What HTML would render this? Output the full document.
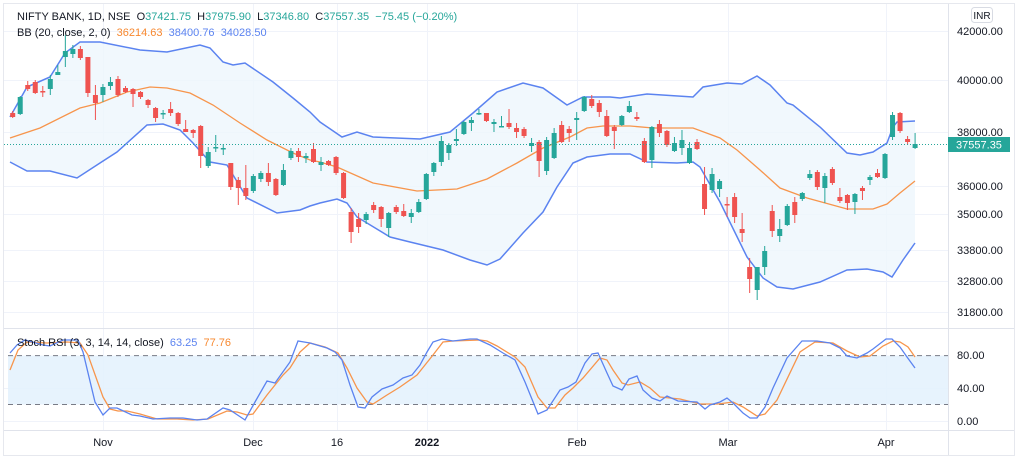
<!DOCTYPE html>
<html><head><meta charset="utf-8"><style>
html,body{margin:0;padding:0;background:#fff;width:1024px;height:461px;overflow:hidden}
svg text{font-family:"Liberation Sans",sans-serif;white-space:pre}
</style></head><body>
<svg id="s" width="1024" height="461" xmlns="http://www.w3.org/2000/svg" xml:space="preserve">
<rect x="0" y="0" width="1024" height="461" fill="#fff"/>
<rect x="3.5" y="3.5" width="1011" height="452" fill="none" stroke="#e6e8ee"/>
<g stroke="#f0f3fa" stroke-width="1">
<line x1="4" x2="948" y1="31.5" y2="31.5"/><line x1="4" x2="948" y1="80.5" y2="80.5"/>
<line x1="4" x2="948" y1="132.5" y2="132.5"/><line x1="4" x2="948" y1="186.5" y2="186.5"/>
<line x1="4" x2="948" y1="214.5" y2="214.5"/><line x1="4" x2="948" y1="250.5" y2="250.5"/>
<line x1="4" x2="948" y1="281.5" y2="281.5"/><line x1="4" x2="948" y1="312.5" y2="312.5"/>
<line x1="4" x2="948" y1="388.5" y2="388.5"/><line x1="4" x2="948" y1="421.5" y2="421.5"/>
<line x1="103.5" x2="103.5" y1="4" y2="430"/><line x1="253.5" x2="253.5" y1="4" y2="430"/>
<line x1="337.5" x2="337.5" y1="4" y2="430"/><line x1="427.5" x2="427.5" y1="4" y2="430"/>
<line x1="577.5" x2="577.5" y1="4" y2="430"/><line x1="728.5" x2="728.5" y1="4" y2="430"/>
<line x1="886.5" x2="886.5" y1="4" y2="430"/>
</g>
<g id="g"></g>
<rect x="8" y="355.6" width="940" height="48.9" fill="#e3f1fd" opacity="0.85"/>
<line x1="8" x2="948" y1="355.6" y2="355.6" stroke="#787b86" stroke-dasharray="5,4"/>
<line x1="8" x2="948" y1="404.5" y2="404.5" stroke="#787b86" stroke-dasharray="5,4"/>
<g id="st"></g>
<line x1="4" x2="1014" y1="328.5" y2="328.5" stroke="#e0e3eb"/>
<line x1="4" x2="1014" y1="430.5" y2="430.5" stroke="#e0e3eb"/>
<line x1="948.5" x2="948.5" y1="4" y2="455" stroke="#e0e3eb"/>
<line x1="4" x2="948" y1="144.5" y2="144.5" stroke="#26a69a" stroke-dasharray="1,2"/>
<g font-size="11" fill="#131722">
<text x="17" y="20">NIFTY BANK, 1D, NSE  O<tspan fill="#26a69a">37421.75</tspan>  H<tspan fill="#26a69a">37975.90</tspan>  L<tspan fill="#26a69a">37346.80</tspan>  C<tspan fill="#26a69a">37557.35</tspan>  <tspan fill="#26a69a">−75.45 (−0.20%)</tspan></text>
<text x="17" y="36">BB (20, close, 2, 0)  <tspan fill="#f7882f">36214.63</tspan>  <tspan fill="#5b83f0">38400.76</tspan>  <tspan fill="#5b83f0">34028.50</tspan></text>
<text x="17" y="346">Stoch RSI (3, 3, 14, 14, close)  <tspan fill="#5b83f0">63.25</tspan>  <tspan fill="#f7882f">77.76</tspan></text>
</g>
<rect x="971.5" y="7.5" width="21" height="15" rx="3" fill="#fff" stroke="#d8dbe3"/>
<text x="982" y="19" font-size="10" fill="#131722" text-anchor="middle">INR</text>
<g font-size="11" fill="#131722">
<text x="957" y="35">42000.00</text><text x="957" y="84">40000.00</text>
<text x="957" y="136">38000.00</text><text x="957" y="190">36000.00</text>
<text x="957" y="218">35000.00</text><text x="957" y="254">33800.00</text>
<text x="957" y="285">32800.00</text><text x="957" y="316">31800.00</text>
<text x="957" y="359">80.00</text><text x="957" y="392">40.00</text><text x="957" y="425">0.00</text>
<text x="103" y="446" text-anchor="middle">Nov</text><text x="253" y="446" text-anchor="middle">Dec</text>
<text x="337" y="446" text-anchor="middle">16</text><text x="427" y="446" text-anchor="middle" font-weight="bold">2022</text>
<text x="577" y="446" text-anchor="middle">Feb</text><text x="728" y="446" text-anchor="middle">Mar</text>
<text x="886" y="446" text-anchor="middle">Apr</text>
</g>
<rect x="948" y="137" width="62" height="15" fill="#26a69a"/>
<text x="979" y="148.5" font-size="11" fill="#fff" text-anchor="middle">37557.35</text>
</svg>
<script>
var NS="http://www.w3.org/2000/svg";
function el(p,t,a){var e=document.createElementNS(NS,t);for(var k in a)e.setAttribute(k,a[k]);p.appendChild(e);return e;}
function pts(a){return a.map(function(p){return p[0]+","+p[1]}).join(" ");}
var up=[[10,117],[27,87],[50,77],[65,53],[80,42],[100,42],[140,50],[167,52],[200,45],[210,48],[223,62],[233,65],[245,63],[273,82],[293,98],[310,112],[320,122],[342,137],[357,132],[373,137],[420,139],[450,132],[473,113],[497,92],[523,83],[543,88],[567,105],[583,97],[610,97],[620,98],[647,94],[693,97],[703,87],[727,83],[742,84],[757,76],[770,85],[787,103],[793,105],[820,127],[847,153],[860,155],[873,152],[887,143],[893,127],[897,122],[915,121]];
var mid=[[10,138],[40,128],[80,108],[100,103],[127,92],[150,87],[167,88],[190,93],[213,105],[240,123],[267,140],[293,153],[310,160],[320,162],[337,167],[373,183],[417,191],[457,189],[487,179],[517,163],[543,148],[570,137],[587,128],[603,126],[630,126],[653,128],[693,128],[720,138],[737,150],[760,170],[780,188],[807,198],[847,209],[873,209],[887,204],[900,193],[915,181]];
var lo=[[10,162],[27,171],[50,171],[77,178],[100,163],[117,152],[147,125],[163,124],[180,130],[193,143],[210,162],[227,165],[247,198],[277,213],[300,210],[310,206],[320,203],[337,199],[347,203],[357,217],[390,237],[410,242],[443,250],[470,260],[487,265],[500,259],[523,233],[543,212],[557,187],[573,163],[587,157],[610,154],[630,154],[647,162],[677,163],[693,162],[700,167],[720,202],[747,257],[763,278],[777,287],[793,289],[820,282],[847,270],[867,269],[883,272],[892,277],[903,260],[915,243]];
var g=document.getElementById("g");
el(g,"polygon",{points:pts(up.concat(lo.slice().reverse())),fill:"#eef6fd",opacity:"0.8"});
el(g,"polyline",{points:pts(up),fill:"none",stroke:"#5b83f0","stroke-width":"1.5"});
el(g,"polyline",{points:pts(lo),fill:"none",stroke:"#5b83f0","stroke-width":"1.5"});
el(g,"polyline",{points:pts(mid),fill:"none",stroke:"#f7954c","stroke-width":"1.3"});
var C=[[0,113,117,111,118],[1,97,114,96,115],[0,85,89,81,91],[0,82,93,80,94],[0,91,92,86,97],[1,79,89,75,95],[1,72,75,65,75],[1,51,57,35,67],[1,49,54,45,58],[0,49,58,46,60],[0,57,93,57,97],[0,95,103,85,120],[1,87,95,84,102],[1,82,86,77,90],[0,79,95,76,97],[0,88,92,86,93],[0,89,94,88,107],[0,92,97,91,99],[0,100,105,99,108],[0,108,118,107,122],[1,113,114,110,119],[0,109,113,102,116],[0,113,124,112,126],[0,129,132,120,132],[0,130,133,129,138],[0,126,156,125,168],[1,152,166,147,168],[1,147,148,135,152],[1,148,149,144,155],[0,163,187,163,190],[0,180,188,177,205],[0,188,196,165,200],[1,176,191,174,193],[1,173,179,171,182],[0,173,182,163,186],[0,179,195,178,196],[1,170,185,164,186],[1,151,158,148,160],[0,151,157,148,162],[1,156,158,153,163],[0,149,162,143,163],
[1,162,165,157,171],[0,161,165,160,166],[0,157,173,156,175],[0,173,198,172,199],[0,212,232,208,243],[0,219,227,213,233],[1,214,220,212,224],[0,205,210,202,213],[0,207,219,206,227],[1,213,228,212,237],[0,207,212,205,214],[0,211,216,204,217],[1,213,217,209,223],[1,202,212,199,213],[1,174,199,173,200],[1,163,172,162,176],[1,141,162,136,166],[1,145,153,143,160],[1,139,141,129,146],[1,122,134,121,135],[1,120,123,117,131],[1,113,114,109,115],[0,113,121,113,122],[1,122,124,119,132],[1,126,127,116,127],[0,123,127,109,129],[0,128,132,123,138],[0,129,136,127,138],[1,143,146,138,152],[0,142,161,140,177],[1,140,171,137,175],[1,133,158,128,159],[0,125,142,121,143],[0,129,133,126,142],[1,118,120,112,140],[1,97,111,96,112],[0,99,106,95,108],[0,103,112,100,117],[0,116,136,110,137],[0,127,131,125,149],
[1,116,125,115,126],[1,106,112,101,113],[0,117,119,112,121],[0,141,162,138,163],[1,127,160,126,168],[0,124,133,120,137],[0,131,145,130,147],[1,143,151,137,152],[1,140,148,130,155],[1,148,163,142,164],[0,142,149,139,150],[0,184,209,167,215],[1,174,190,168,193],[1,181,189,179,197],[0,204,205,197,217],[0,197,217,193,223],[0,229,233,213,242],[0,267,279,258,293],[1,267,290,267,300],[1,251,267,246,275],[0,211,231,205,237],[1,229,236,219,242],[1,206,225,204,226],[0,202,215,197,223],[1,193,199,192,201],[1,174,178,170,180],[0,172,187,170,190],[1,176,188,173,203],[0,169,183,167,185],[0,197,201,188,203],[0,195,203,194,210],[1,194,202,193,214],[0,188,191,186,200],[1,177,180,175,185],[0,173,177,169,178],[1,154,178,153,179],[1,115,137,112,140],[0,113,131,112,133],[0,139,142,136,145],[1,144,148,133,149]];
C.forEach(function(c,i){var x=12.7+i*7.52;var col=c[0]?"#26a69a":"#ef5350";
el(g,"line",{x1:x,x2:x,y1:c[3],y2:c[4],stroke:col,"stroke-width":"1"});
var h=Math.max(1.5,c[2]-c[1]);el(g,"rect",{x:x-2.5,y:c[1],width:5,height:h,fill:col});});
var K=[[10,353],[17,345],[25,340],[43,345],[50,346],[63,340],[78,340],[83,352],[95,402],[103,415],[110,408],[117,408],[132,415],[140,416],[153,419],[170,418],[183,418],[197,420],[207,419],[223,408],[230,410],[245,420],[255,402],[267,381],[275,383],[290,362],[298,341],[310,343],[327,348],[335,352],[342,360],[350,385],[358,407],[365,408],[372,397],[382,389],[393,385],[403,378],[412,375],[420,365],[427,352],[433,342],[442,339],[453,341],[470,339],[477,339],[490,345],[503,353],[515,360],[525,382],[538,414],[547,410],[560,390],[568,387],[576,382],[585,363],[592,354],[598,353],[607,373],[613,386],[622,390],[629,379],[637,376],[643,390],[652,398],[660,401],[667,396],[678,401],[697,402],[705,409],[710,405],[720,402],[727,398],[733,403],[743,413],[750,418],[757,418],[765,407],[773,388],[787,358],[802,341],[817,341],[830,343],[840,348],[847,356],[857,358],[867,353],[873,349],[886,339],[892,339],[900,347],[907,357],[915,368]];
var D=[[10,370],[18,350],[27,342],[47,343],[67,342],[80,343],[88,355],[103,397],[110,409],[118,411],[127,411],[140,414],[157,419],[177,419],[193,420],[208,419],[227,411],[237,412],[247,415],[253,414],[267,395],[283,375],[290,368],[300,352],[310,343],[325,347],[338,353],[347,368],[357,388],[367,402],[373,404],[387,395],[400,387],[417,375],[433,355],[443,342],[453,341],[480,340],[487,341],[497,346],[515,357],[525,367],[538,397],[547,408],[555,408],[565,395],[573,388],[583,378],[600,358],[607,360],[613,370],[622,383],[628,385],[640,382],[650,388],[660,397],[680,399],[700,404],[718,404],[733,402],[743,407],[757,416],[765,414],[777,400],[800,352],[815,342],[833,343],[847,351],[860,357],[870,356],[883,346],[893,341],[900,342],[908,347],[915,357]];
var st=document.getElementById("st");
el(st,"polyline",{points:pts(D),fill:"none",stroke:"#f7954c","stroke-width":"1.3"});
el(st,"polyline",{points:pts(K),fill:"none",stroke:"#5b83f0","stroke-width":"1.3"});
</script>
</body></html>
